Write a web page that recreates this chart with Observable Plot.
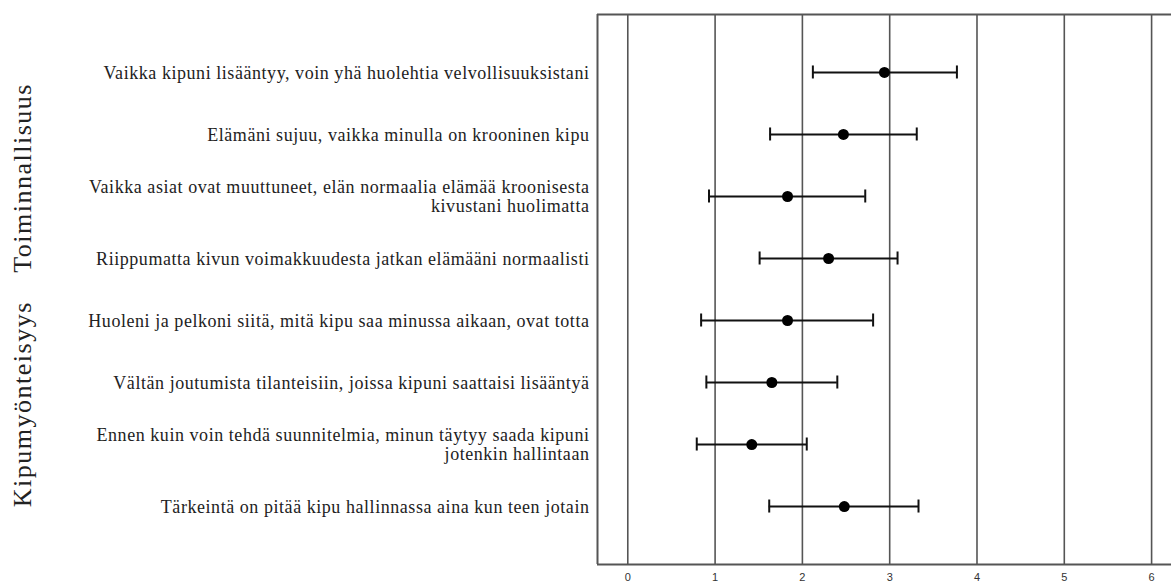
<!DOCTYPE html>
<html>
<head>
<meta charset="utf-8">
<script src="https://cdn.jsdelivr.net/npm/d3@7"></script>
<script src="https://cdn.jsdelivr.net/npm/@observablehq/plot@0.6"></script>
<style>
  html, body { margin: 0; padding: 0; background: #fff; }
  #chart svg { display: block; }
  .ylab text { font-family: "Liberation Serif", "Times New Roman", serif; letter-spacing: 0.55px; }
  .glab { letter-spacing: 1.5px; }
</style>
</head>
<body>
<div id="chart"></div>
<script>
const items = [
  "Vaikka kipuni lisääntyy, voin yhä huolehtia velvollisuuksistani",
  "Elämäni sujuu, vaikka minulla on krooninen kipu",
  "Vaikka asiat ovat muuttuneet, elän normaalia elämää kroonisesta\nkivustani huolimatta",
  "Riippumatta kivun voimakkuudesta jatkan elämääni normaalisti",
  "Huoleni ja pelkoni siitä, mitä kipu saa minussa aikaan, ovat totta",
  "Vältän joutumista tilanteisiin, joissa kipuni saattaisi lisääntyä",
  "Ennen kuin voin tehdä suunnitelmia, minun täytyy saada kipuni\njotenkin hallintaan",
  "Tärkeintä on pitää kipu hallinnassa aina kun teen jotain"
];
const means = [2.94, 2.47, 1.83, 2.30, 1.83, 1.65, 1.42, 2.48];
const lows  = [2.12, 1.63, 0.93, 1.51, 0.84, 0.90, 0.79, 1.62];
const highs = [3.77, 3.31, 2.72, 3.09, 2.81, 2.40, 2.05, 3.33];
const groups = ["Toiminnallisuus", "Kipumyönteisyys"];
const groupCenters = [1.7, 5.35];
const xTicks = [0, 1, 2, 3, 4, 5, 6];

const rows = items.map((label, i) => ({i, label, mean: means[i], low: lows[i], high: highs[i]}));
const groupRows = groups.map((g, k) => ({g, y: groupCenters[k]}));

const xDomain = [-0.347, 6.228];
const yDomain = [-0.935, 7 + 0.935];
const capHalf = 0.105;
const gridColor = "#555";
const serif = "Liberation Serif, Times New Roman, serif";

const chart = Plot.plot({
  width: 1171,
  height: 586,
  marginLeft: 597,
  marginRight: 0,
  marginTop: 14,
  marginBottom: 22,
  style: {fontFamily: serif, color: "#222", background: "#fff"},
  x: {domain: xDomain, ticks: xTicks},
  y: {domain: yDomain, reverse: true},
  marks: [
    Plot.ruleX(xTicks, {stroke: gridColor, strokeWidth: 1.6}),
    Plot.ruleX([xDomain[0]], {stroke: gridColor, strokeWidth: 2}),
    Plot.ruleY(yDomain, {stroke: gridColor, strokeWidth: 2}),
    Plot.axisX({
      ticks: xTicks, tickFormat: d => String(d), tickSize: 0, tickPadding: 9, label: null,
      fontFamily: "Liberation Sans, Arial, sans-serif", fontSize: 11, fill: "#333"
    }),
    Plot.axisY({
      ticks: d3.range(items.length), tickFormat: i => items[i],
      tickSize: 0, tickPadding: 8, label: null, className: "ylab",
      fontFamily: serif, fontSize: 18, lineHeight: 1.055, fill: "#222"
    }),
    Plot.ruleY(rows, {y: "i", x1: "low", x2: "high", stroke: "#111", strokeWidth: 2}),
    Plot.ruleX(rows, {x: "low", y1: d => d.i - capHalf, y2: d => d.i + capHalf, stroke: "#111", strokeWidth: 2}),
    Plot.ruleX(rows, {x: "high", y1: d => d.i - capHalf, y2: d => d.i + capHalf, stroke: "#111", strokeWidth: 2}),
    Plot.dot(rows, {x: "mean", y: "i", r: 5.5, fill: "#000", stroke: "none"}),
    Plot.text(groupRows, {
      y: "y", text: "g", frameAnchor: "left", dx: -575, rotate: -90, className: "glab",
      fontFamily: serif, fontSize: 26, fill: "#222", textAnchor: "middle"
    })
  ]
});
document.getElementById("chart").appendChild(chart);
</script>
</body>
</html>
